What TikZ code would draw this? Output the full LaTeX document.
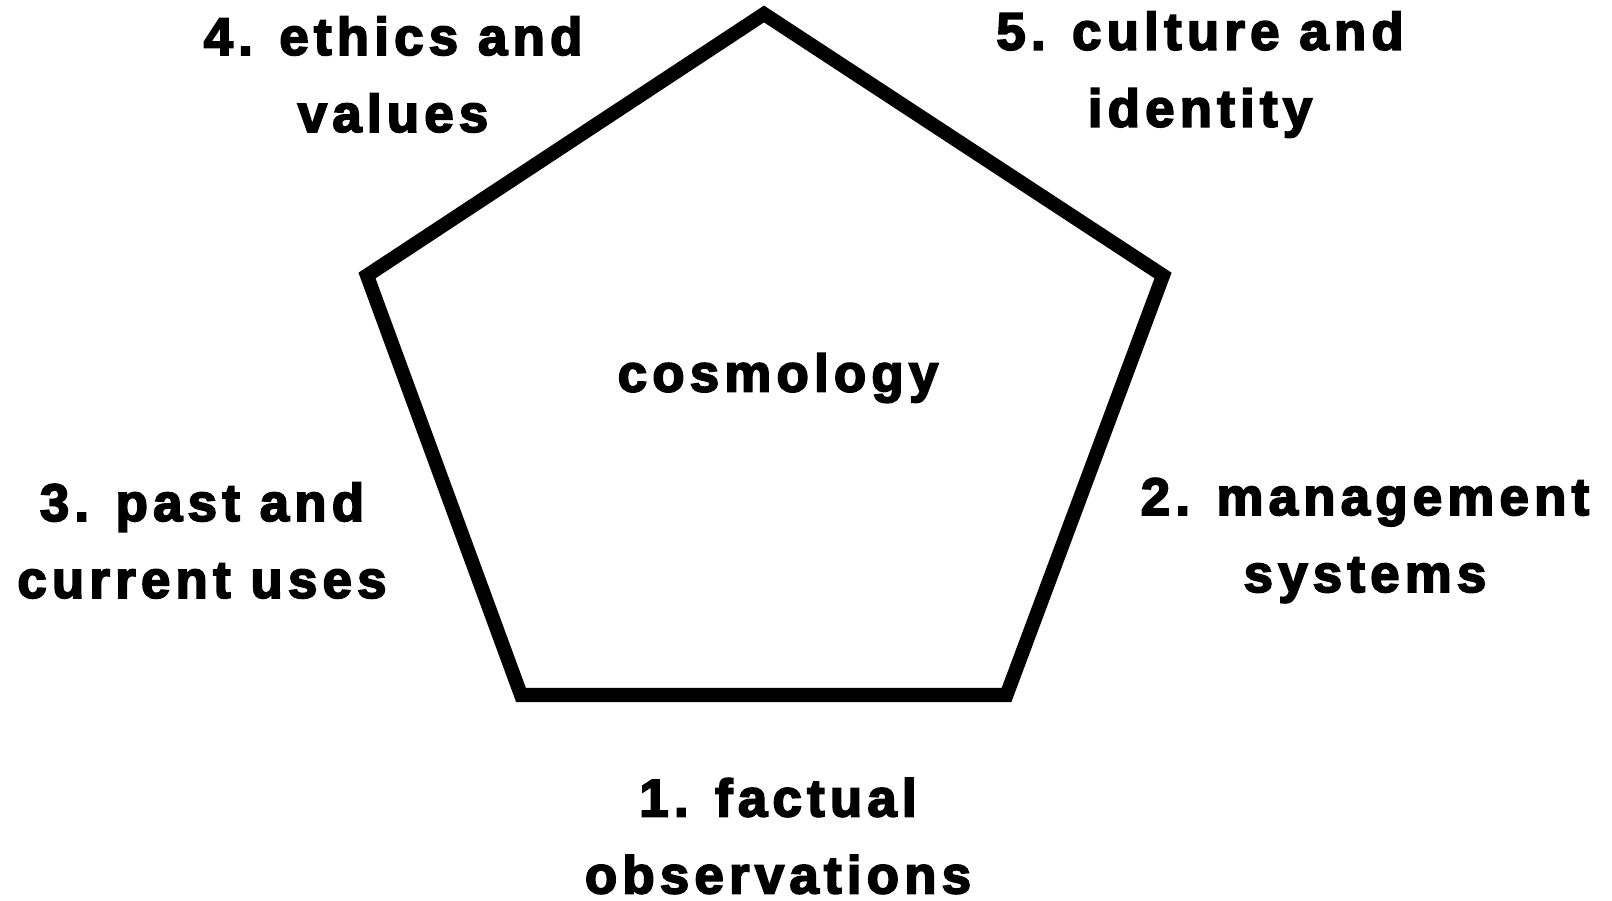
\documentclass[tikz,border=0pt]{standalone}
\usepackage{fontspec}
\usepackage{xcolor}
\usepackage{tikz}
\usetikzlibrary{positioning, calc}
\newfontfamily\lblfont{Liberation Sans}[LetterSpace=10, FakeBold=3.5]
\definecolor{ink}{HTML}{000000}
\tikzset{
  lbl/.style   ={font=\lblfont\bfseries\fontsize{15}{21.9}\selectfont,
                 text=ink, align=center, inner sep=0pt},
  frame/.style ={draw=ink, line width=4pt, line join=miter}
}

\begin{document}
\begin{tikzpicture}
  \useasboundingbox (0,0) rectangle (16.12,9);

  % pentagon corners
  \coordinate (top)  at (7.64, 8.86);
  \coordinate (rgt)  at (11.63, 6.245);
  \coordinate (brt)  at (10.065, 2.05);
  \coordinate (blt)  at (5.21, 2.05);
  \coordinate (lft)  at (3.67, 6.245);
  \draw[frame] (top) -- (rgt) -- (brt) -- (blt) -- (lft) -- cycle;

  \node[lbl] (cosmo)   at (7.78, 5.22)   {cosmology};
  \node[lbl] (factual) at (7.78, 0.64)   {1. factual\\observations};
  \node[lbl] (manage)  at (13.65, 3.595) {2. management\\systems};
  \node[lbl] (uses)    at (2.02, 3.595)  {3. past and\\current uses};
  \node[lbl] (ethics)  at (3.93, 8.255)  {4. ethics and\\values};
  \node[lbl] (culture) at (12.00, 8.255) {5. culture and\\identity};
\end{tikzpicture}
\end{document}
